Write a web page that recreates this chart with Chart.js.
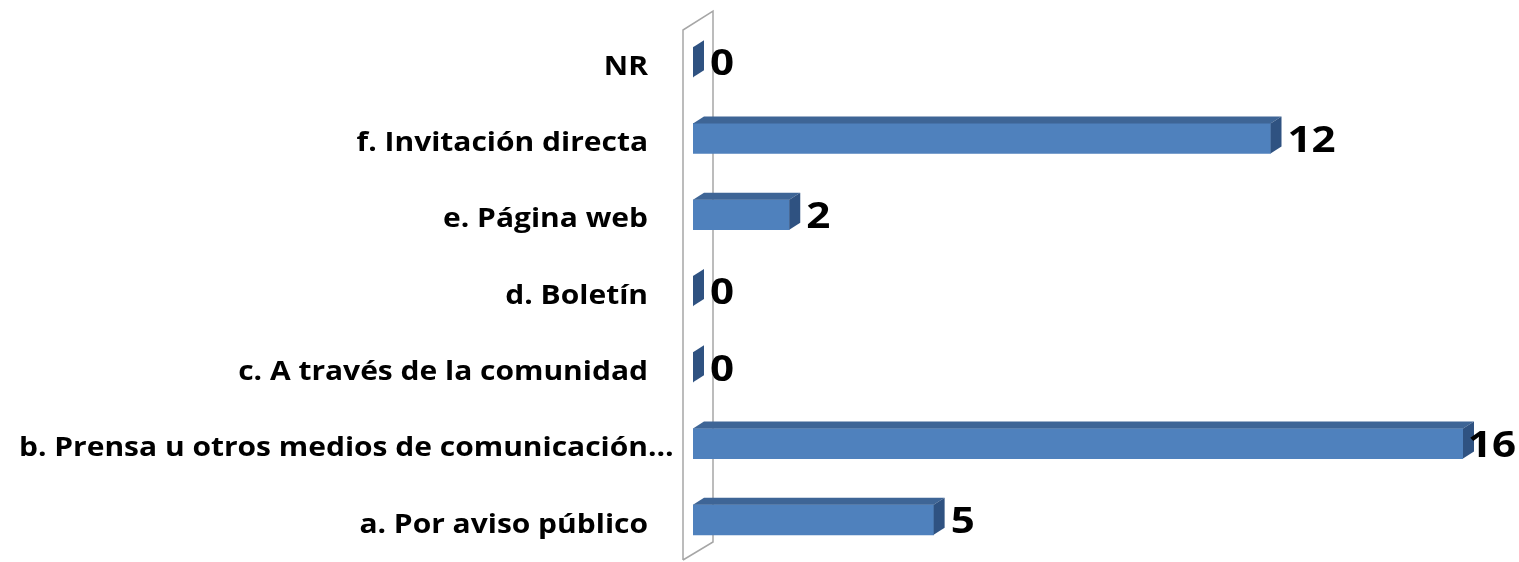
<!DOCTYPE html>
<html>
<head>
<meta charset="utf-8">
<script src="https://cdn.jsdelivr.net/npm/chart.js@4.4.0/dist/chart.umd.min.js"></script>
<style>
  html, body { margin: 0; padding: 0; background: #fff; }
</style>
</head>
<body>
<canvas id="medios" width="1519" height="562"></canvas>
<script>
const categorias = [
    'NR',
    'f. Invitación directa',
    'e. Página web',
    'd. Boletín',
    'c. A través de la comunidad',
    'b. Prensa u otros medios de comunicación…',
    'a. Por aviso público'
];
const respuestas = [0, 12, 2, 0, 0, 16, 5];
const ejeMax = 16;

const DX = 11, DY = 7;   // profundidad 3D
const frente = '#4F81BD';
const techo = '#3E6596';
const lado = '#2F5281';

/* pared 3D del eje y barras con caras superior y lateral */
const barras3d = {
    id: 'barras3d',
    beforeDatasetsDraw(chart) {
        const ctx = chart.ctx;
        const area = chart.chartArea;
        const x0 = chart.scales.x.getPixelForValue(0);
        ctx.save();
        ctx.strokeStyle = '#A6A6A6';
        ctx.lineWidth = 1.5;
        ctx.beginPath();
        ctx.moveTo(x0 - 10, area.bottom + 2);
        ctx.lineTo(x0 - 10, area.top + 6);
        ctx.lineTo(x0 + 20, area.top - 13);
        ctx.lineTo(x0 + 20, area.bottom - 16);
        ctx.lineTo(x0 - 10, area.bottom + 2);
        ctx.stroke();
        ctx.restore();
    },
    afterDatasetsDraw(chart) {
        const ctx = chart.ctx;
        const meta = chart.getDatasetMeta(0);
        meta.data.forEach(function(bar, i) {
            const top = bar.y - bar.height / 2;
            const bottom = bar.y + bar.height / 2;
            const x = bar.x, b = bar.base;
            ctx.save();
            if (x > b) {
                ctx.fillStyle = techo;
                ctx.beginPath();
                ctx.moveTo(b, top);
                ctx.lineTo(b + DX, top - DY);
                ctx.lineTo(x + DX, top - DY);
                ctx.lineTo(x, top);
                ctx.closePath();
                ctx.fill();
            }
            ctx.fillStyle = lado;
            ctx.beginPath();
            ctx.moveTo(x, top);
            ctx.lineTo(x + DX, top - DY);
            ctx.lineTo(x + DX, bottom - DY);
            ctx.lineTo(x, bottom);
            ctx.closePath();
            ctx.fill();
            ctx.restore();

            // valor (se mete hacia dentro si no cabe)
            ctx.save();
            ctx.fillStyle = '#000';
            ctx.font = 'bold 36px "Open Sans"';
            ctx.textAlign = 'left';
            ctx.textBaseline = 'middle';
            const sx = 1.17;
            const w = ctx.measureText(String(respuestas[i])).width * sx;
            let tx = x + DX + 6;
            if (tx + w > chart.width - 3) tx = chart.width - 3 - w;
            ctx.translate(tx, bar.y + 3);
            ctx.scale(sx, 1);
            ctx.fillText(String(respuestas[i]), 0, 0);
            ctx.restore();

            // categoría
            ctx.save();
            ctx.fillStyle = '#000';
            ctx.font = 'bold 27px "Open Sans"';
            ctx.textAlign = 'left';
            ctx.textBaseline = 'middle';
            let txt = categorias[i];
            let ancho = ctx.measureText(txt.replace('…', '')).width;
            ctx.translate(648, bar.y + 5);
            ctx.scale(1.11, 1);
            ctx.fillText(txt, -ancho, 0);
            ctx.restore();
        });
    }
};

const ctx_medios = document.getElementById('medios').getContext('2d');
const graficoMedios = new Chart(ctx_medios, {
    type: 'bar',
    data: {
        labels: categorias,
        datasets: [{
            data: respuestas,
            backgroundColor: frente,
            borderWidth: 0,
            barThickness: 30
        }]
    },
    options: {
        indexAxis: 'y',
        responsive: false,
        animation: false,
        layout: {
            padding: { left: 693, right: 56, top: 24, bottom: 4 }
        },
        plugins: {
            legend: { display: false },
            tooltip: { enabled: false }
        },
        scales: {
            x: { min: 0, max: ejeMax, display: false },
            y: { display: false }
        }
    },
    plugins: [barras3d]
});
</script>
</body>
</html>
